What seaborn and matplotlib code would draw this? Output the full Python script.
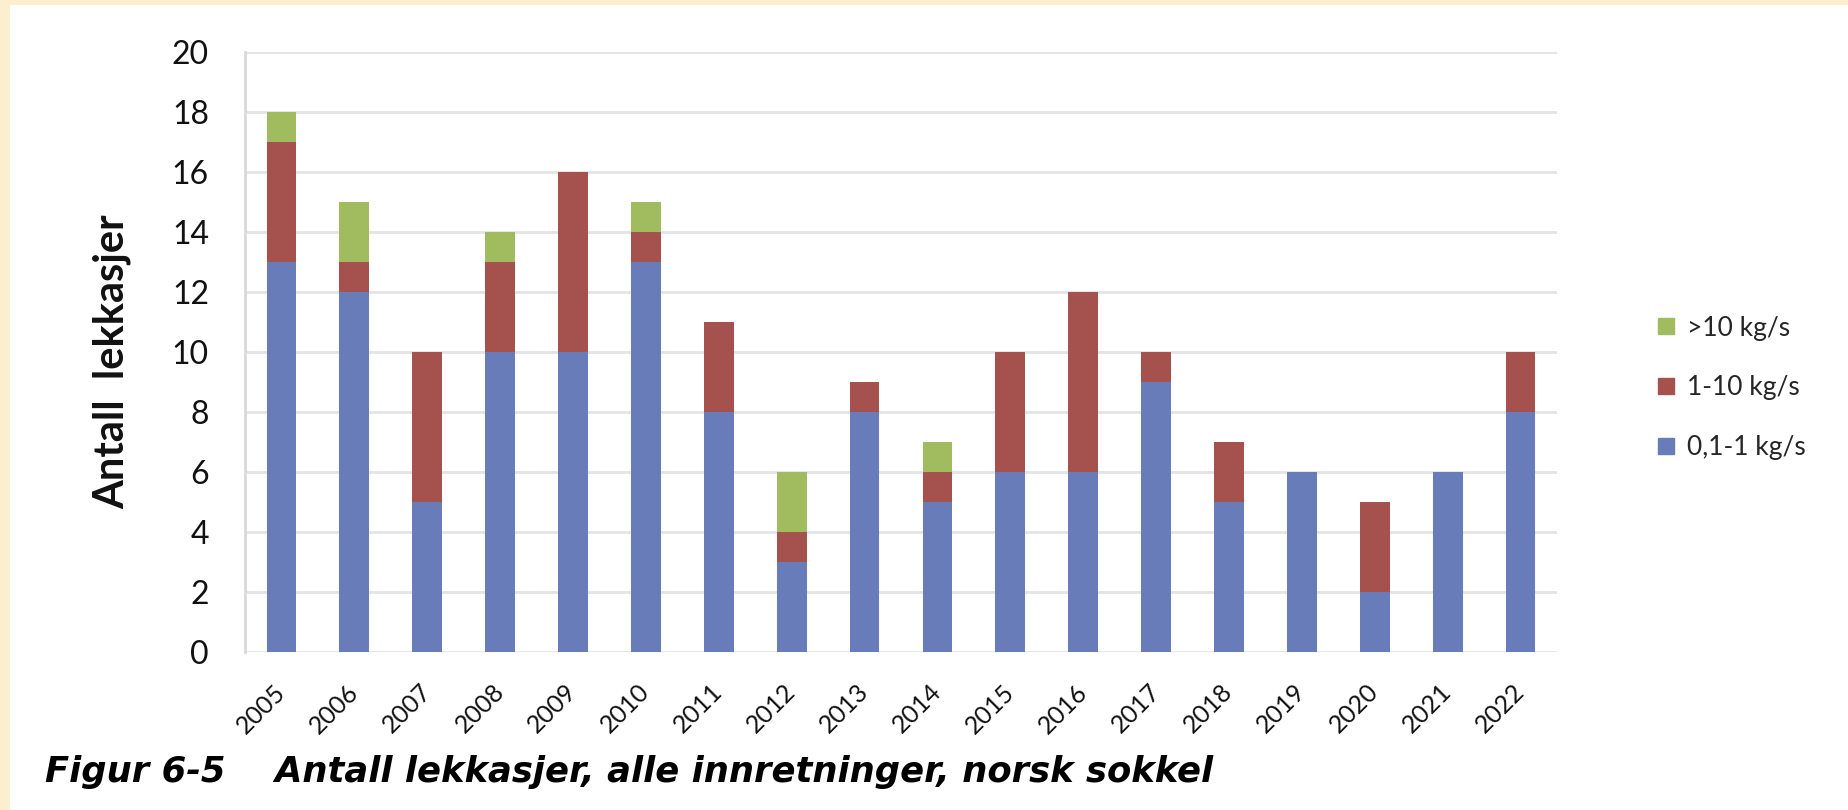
import pandas as pd
import numpy as np
import matplotlib
matplotlib.use("Agg")
import matplotlib.pyplot as plt
from matplotlib.patches import Rectangle
from matplotlib.lines import Line2D
import seaborn as sns

# Data (number of leaks per year, by leak rate)
years = ["2005", "2006", "2007", "2008", "2009", "2010", "2011", "2012", "2013",
         "2014", "2015", "2016", "2017", "2018", "2019", "2020", "2021", "2022"]
small = [13, 12, 5, 10, 10, 13, 8, 3, 8, 5, 6, 6, 9, 5, 6, 2, 6, 8]      # 0,1-1 kg/s
medium = [4, 1, 5, 3, 6, 1, 3, 1, 1, 1, 4, 6, 1, 2, 0, 3, 0, 2]         # 1-10 kg/s
large = [1, 2, 0, 1, 0, 1, 0, 2, 0, 1, 0, 0, 0, 0, 0, 0, 0, 0]          # >10 kg/s
labels = [">10 kg/s", "1-10 kg/s", "0,1-1 kg/s"]

c_small = "#677CB9"
c_medium = "#A5524F"
c_large = "#A1BC5F"

df = pd.DataFrame({"year": years, "small": small, "medium": medium, "large": large})
df["mid_top"] = df["small"] + df["medium"]
df["total"] = df["mid_top"] + df["large"]

sns.set_theme(style="white")
plt.rcParams["font.family"] = ["Lato", "DejaVu Sans"]

fig = plt.figure(figsize=(18.48, 8.10), dpi=100)
fig.patch.set_facecolor("#FCEFD0")
fig.patches.append(Rectangle((10 / 1848, 0), 1, 1 - 5 / 810, transform=fig.transFigure,
                             facecolor="white", edgecolor="none", zorder=-10))

ax = fig.add_axes([245 / 1848, 158 / 810, 1312 / 1848, 600 / 810])
ax.set_zorder(1)
ax.set_facecolor("white")

# layered bars: totals first, then the lower stacks on top
bw = 0.41
sns.barplot(data=df, x="year", y="total", color=c_large, width=bw, linewidth=0,
            saturation=1, ax=ax, zorder=2)
sns.barplot(data=df, x="year", y="mid_top", color=c_medium, width=bw, linewidth=0,
            saturation=1, ax=ax, zorder=3)
sns.barplot(data=df, x="year", y="small", color=c_small, width=bw, linewidth=0,
            saturation=1, ax=ax, zorder=4)

ax.set_xlim(-0.5, 17.5)
ax.set_ylim(0, 20)
ax.set_yticks(range(0, 21, 2))
ax.yaxis.grid(True, color="#E4E4E4", linewidth=2)
ax.set_axisbelow(True)
for s in ["top", "right", "bottom"]:
    ax.spines[s].set_visible(False)
ax.spines["left"].set_color("#D9D9D9")
ax.spines["left"].set_linewidth(2)
ax.set_xlabel("")
ax.set_ylabel("")
ax.tick_params(axis="y", length=0, pad=26, labelsize=23, labelcolor="#111111")
ax.tick_params(axis="x", length=0, pad=26, labelsize=18, labelcolor="#111111")
for t in ax.get_xticklabels():
    t.set_rotation(45)
    t.set_ha("right")
    t.set_va("center")
    t.set_rotation_mode("anchor")

fig.text(112 / 1848, 1 - 362 / 810, "Antall  lekkasjer", rotation=90, ha="center",
         va="center", fontsize=30, fontweight="bold", color="#111111")

handles = [Line2D([], [], marker="s", linestyle="none", markersize=12, color=c)
           for c in [c_large, c_medium, c_small]]
fig.legend(handles, labels, loc="center left", bbox_to_anchor=(1655 / 1848, 1 - 388 / 810),
           frameon=False, fontsize=19, labelspacing=1.32, handlelength=0.8,
           handletextpad=0.4, borderpad=0, borderaxespad=0)

fig.text(45 / 1848, 1 - 782 / 810,
         "Figur 6-5    Antall lekkasjer, alle innretninger, norsk sokkel",
         family="DejaVu Sans", fontweight="bold", fontstyle="italic", fontsize=25.5,
         va="baseline", ha="left", color="black")

fig.savefig("out.png", dpi=100, facecolor=fig.get_facecolor())
